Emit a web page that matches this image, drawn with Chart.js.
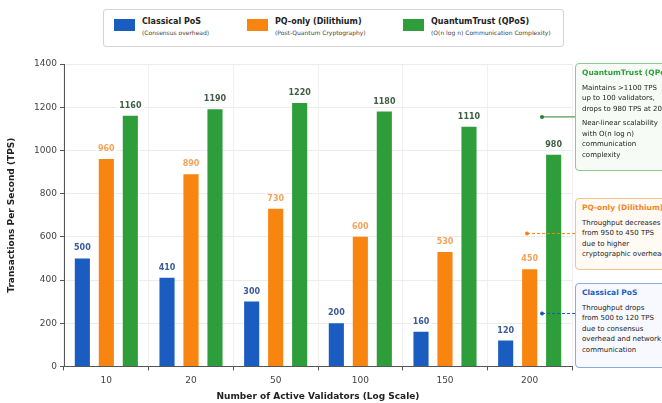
<!DOCTYPE html>
<html>
<head>
<meta charset="utf-8">
<script src="https://cdn.jsdelivr.net/npm/chart.js@4.4.1/dist/chart.umd.min.js"></script>
<style>
    html, body { margin: 0; padding: 0; background: #fff; overflow: hidden; }
    #wrap { position: relative; width: 662px; height: 403px; font-family: "DejaVu Sans", sans-serif; color: #222; }
    #chart { position: absolute; left: 0; top: 0; }
    .legend { position: absolute; left: 103px; top: 9px; width: 461px; height: 38px; border: 1px solid #d4d4d4; border-radius: 3px; box-sizing: border-box; background: #fff; }
    .item { position: absolute; top: 7px; }
    .swatch { position: absolute; left: 0; top: 2px; width: 21px; height: 12px; }
    .item b { position: absolute; left: 28px; top: 0; font-size: 8px; white-space: nowrap; }
    .item span { position: absolute; left: 28px; top: 12px; font-size: 6px; white-space: nowrap; color: #444; }
    .note { position: absolute; left: 575px; width: 100px; border: 1px solid; border-radius: 4px; box-sizing: border-box; padding: 4px 6px; font-size: 7px; line-height: 10.5px; white-space: nowrap; }
    .note b { display: block; font-size: 7.5px; margin-bottom: 4px; }
    .note p { margin: 0 0 4px 0; }
</style>
</head>
<body>
<div id="wrap">
    <canvas id="chart" width="662" height="403"></canvas>
    <div class="legend" id="legend"></div>
    <div class="note" style="top:63px;height:108px;border-color:#8cc98f;background:#f6fbf6;">
        <b style="color:#2e9e3a">QuantumTrust (QPoS)</b>
        <p>Maintains &gt;1100 TPS<br>up to 100 validators,<br>drops to 980 TPS at 200</p>
        <p>Near-linear scalability<br>with O(n log n)<br>communication<br>complexity</p>
    </div>
    <div class="note" style="top:198px;height:72px;border-color:#f6c08a;background:#fffaf4;">
        <b style="color:#f5871f">PQ-only (Dilithium)</b>
        <p>Throughput decreases<br>from 950 to 450 TPS<br>due to higher<br>cryptographic overhead</p>
    </div>
    <div class="note" style="top:283px;height:85px;border-color:#8aa9dd;background:#f7f9fe;">
        <b style="color:#1a5cc0">Classical PoS</b>
        <p>Throughput drops<br>from 500 to 120 TPS<br>due to consensus<br>overhead and network<br>communication</p>
    </div>
</div>
<script>
const validators = ['10', '20', '50', '100', '150', '200'];

const classicalPoS = [500, 410, 300, 200, 160, 120];
const pqOnly = [960, 890, 730, 600, 530, 450];
const quantumTrust = [1160, 1190, 1220, 1180, 1110, 980];

const seriesNames = ['Classical PoS', 'PQ-only (Dilithium)', 'QuantumTrust (QPoS)'];
const seriesNotes = ['(Consensus overhead)', '(Post-Quantum Cryptography)', '(O(n log n) Communication Complexity)'];

const colors = ['#1a5cc0', '#f7850f', '#2e9e3a'];
const labelColors = ['#3a5a9c', '#f5a35a', '#3f5f45'];

// legend built from the series names
const legend = document.getElementById('legend');
const legendX = [10, 143, 299];
seriesNames.forEach((name, i) => {
    const el = document.createElement('div');
    el.className = 'item';
    el.style.left = legendX[i] + 'px';
    el.innerHTML = `<div class="swatch" style="background:${colors[i]}"></div><b>${name}</b><span>${seriesNotes[i]}</span>`;
    legend.appendChild(el);
});

// connector from a point in the plot to each side note
const connectors = [
    { value: 1155, x: 542, color: '#2e7d32', dash: [] },
    { value: 615, x: 527, color: '#f7850f', dash: [3, 2] },
    { value: 245, x: 542, color: '#1a5cc0', dash: [3, 2] }
];

const valueLabels = {
    id: 'valueLabels',
    afterDatasetsDraw(chart) {
        const ctx = chart.ctx;
        ctx.save();
        ctx.font = 'bold 8px "DejaVu Sans"';
        ctx.textAlign = 'center';
        ctx.textBaseline = 'middle';
        chart.data.datasets.forEach((ds, i) => {
            chart.getDatasetMeta(i).data.forEach((bar, j) => {
                const text = String(ds.data[j]);
                const w = ctx.measureText(text).width + 4;
                const y = bar.y - 10;
                ctx.fillStyle = 'rgba(255,255,255,0.9)';
                ctx.fillRect(bar.x - w / 2, y - 5, w, 10);
                ctx.fillStyle = labelColors[i];
                ctx.fillText(text, bar.x, y);
            });
        });
        ctx.restore();
    }
};

const noteLinks = {
    id: 'noteLinks',
    afterDraw(chart) {
        const ctx = chart.ctx;
        const yScale = chart.scales.y;
        ctx.save();
        connectors.forEach(c => {
            const y = yScale.getPixelForValue(c.value);
            ctx.strokeStyle = c.color;
            ctx.lineWidth = 1;
            ctx.setLineDash(c.dash);
            ctx.beginPath();
            ctx.moveTo(c.x, y);
            ctx.lineTo(575, y);
            ctx.stroke();
            ctx.setLineDash([]);
            ctx.fillStyle = c.color;
            ctx.beginPath();
            ctx.arc(c.x, y, 2, 0, Math.PI * 2);
            ctx.fill();
        });
        ctx.restore();
    }
};

Chart.defaults.font.family = '"DejaVu Sans", sans-serif';
Chart.defaults.color = '#333';

new Chart(document.getElementById('chart'), {
    type: 'bar',
    data: {
        labels: validators,
        datasets: [
            { label: seriesNames[0], data: classicalPoS, backgroundColor: colors[0] },
            { label: seriesNames[1], data: pqOnly, backgroundColor: colors[1] },
            { label: seriesNames[2], data: quantumTrust, backgroundColor: colors[2] }
        ]
    },
    options: {
        responsive: false,
        animation: false,
        layout: { padding: { top: 64, right: 90, bottom: 1, left: 6 } },
        datasets: { bar: { categoryPercentage: 0.85, barPercentage: 0.63 } },
        plugins: { legend: { display: false }, tooltip: { enabled: false } },
        scales: {
            x: {
                grid: { color: '#f0f0f0', tickLength: 4, tickColor: '#555' },
                border: { color: '#555' },
                ticks: { font: { size: 9 }, color: '#444', padding: 5 },
                title: { display: true, text: 'Number of Active Validators (Log Scale)', font: { size: 9, weight: 'bold' }, color: '#222', padding: { top: 0, bottom: 0 } }
            },
            y: {
                min: 0,
                max: 1400,
                afterFit: scale => { scale.width = 58; },
                grid: { color: '#ececec', tickLength: 4, tickColor: '#555' },
                border: { color: '#555' },
                ticks: { stepSize: 200, font: { size: 9 }, color: '#444', padding: 3, callback: v => String(v) },
                title: { display: true, text: 'Transactions Per Second (TPS)', font: { size: 9, weight: 'bold' }, color: '#222', padding: { top: 0, bottom: 6 } }
            }
        }
    },
    plugins: [valueLabels, noteLinks]
});
</script>
</body>
</html>
